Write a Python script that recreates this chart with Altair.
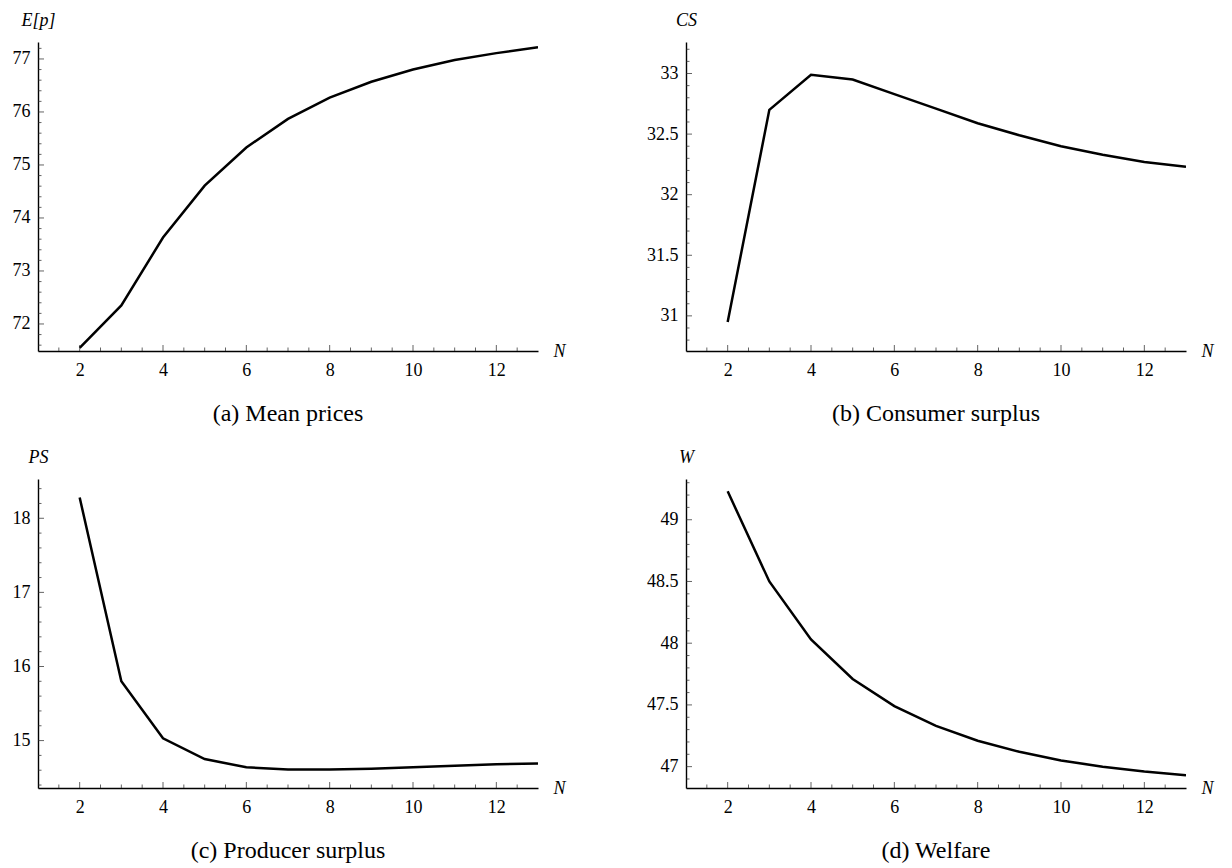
import altair as alt
import pandas as pd

# ---- data ----
N = [2, 3, 4, 5, 6, 7, 8, 9, 10, 11, 12, 13]
mean_prices = [71.55, 72.35, 73.63, 74.61, 75.33, 75.87, 76.27, 76.57, 76.80, 76.98, 77.11, 77.22]
consumer_surplus = [30.95, 32.70, 32.99, 32.95, 32.83, 32.71, 32.59, 32.49, 32.40, 32.33, 32.27, 32.23]
producer_surplus = [18.28, 15.80, 15.03, 14.75, 14.64, 14.61, 14.61, 14.62, 14.64, 14.66, 14.68, 14.69]
welfare = [49.23, 48.50, 48.03, 47.71, 47.49, 47.33, 47.21, 47.12, 47.05, 47.00, 46.96, 46.93]

x_major = [2, 4, 6, 8, 10, 12]
x_minor = [1.5, 2.5, 3, 3.5, 4.5, 5, 5.5, 6.5, 7, 7.5, 8.5, 9, 9.5, 10.5, 11, 11.5, 12.5]

ticks_a = [72, 73, 74, 75, 76, 77]
ticks_b = [31, 31.5, 32, 32.5, 33]
ticks_c = [15, 16, 17, 18]
ticks_d = [47, 47.5, 48, 48.5, 49]

SERIF = "Liberation Serif, Times New Roman, Times, serif"
W, H = 500, 309


def minor_ticks(lo, hi, step, majors):
    out = []
    k = int(lo / step) - 1
    while k * step <= hi + 1e-9:
        v = round(k * step, 4)
        if lo <= v <= hi and all(abs(v - m) > 1e-6 for m in majors):
            out.append(v)
        k += 1
    return out


def panel(values, ylab, caption, ydom, ymajor, ystep):
    df = pd.DataFrame({"N": N, "v": values})
    xs = alt.Scale(domain=[1, 13], nice=False, zero=False)
    ys = alt.Scale(domain=ydom, nice=False, zero=False)
    yminor = minor_ticks(ydom[0], ydom[1], ystep, ymajor)

    line = alt.Chart(df).mark_line(color="black", strokeWidth=2.5, clip=True).encode(
        x=alt.X("N:Q", scale=xs, axis=alt.Axis(
            values=x_major, ticks=False, grid=False, domainColor="black", domainWidth=1.4,
            labelFont=SERIF, labelFontSize=18, labelColor="black", labelPadding=10,
            title="N", titleFont=SERIF, titleFontStyle="italic", titleFontWeight="normal",
            titleFontSize=18, titleColor="black", titleX=W + 15, titleY=0,
            titleAlign="left", titleBaseline="middle", labelFlush=False)),
        y=alt.Y("v:Q", scale=ys, axis=alt.Axis(
            values=ymajor, format="~g", ticks=False, grid=False, domainColor="black",
            domainWidth=1.4, labelFont=SERIF, labelFontSize=18, labelColor="black",
            labelPadding=8, title=ylab, titleFont=SERIF, titleFontStyle="italic",
            titleFontWeight="normal", titleFontSize=18, titleColor="black", titleAngle=0,
            titleX=0, titleY=-22, titleAlign="center", titleBaseline="middle",
            labelFlush=False)),
    )

    def xticks(vals, size):
        return alt.Chart(pd.DataFrame({"t": vals})).mark_tick(
            orient="vertical", size=size, thickness=1, color="#222", yOffset=-size / 2
        ).encode(x=alt.X("t:Q", scale=xs), y=alt.datum(ydom[0], scale=ys))

    def yticks(vals, size):
        return alt.Chart(pd.DataFrame({"t": vals})).mark_tick(
            orient="horizontal", size=size, thickness=1, color="#222", xOffset=size / 2
        ).encode(y=alt.Y("t:Q", scale=ys), x=alt.datum(1, scale=xs))

    layers = [line, xticks(x_major, 6), xticks(x_minor, 3.5),
              yticks(ymajor, 6), yticks(yminor, 3.5)]

    return alt.layer(*layers).properties(
        width=W, height=H,
        title=alt.TitleParams(caption, orient="bottom", anchor="middle", frame="group",
                              font=SERIF, fontSize=24, fontWeight="normal", color="black",
                              offset=23),
    )


pa = panel(mean_prices, "E[p]", "(a)  Mean prices", [71.49, 77.32], ticks_a, 0.2)
pb = panel(consumer_surplus, "CS", "(b)  Consumer surplus", [30.71, 33.26], ticks_b, 0.1)
pc = panel(producer_surplus, "PS", "(c)  Producer surplus", [14.36, 18.53], ticks_c, 0.2)
pd_ = panel(welfare, "W", "(d)  Welfare", [46.827, 49.33], ticks_d, 0.1)

row1 = alt.hconcat(pa, pb, spacing=80)
row2 = alt.hconcat(pc, pd_, spacing=80)
chart = alt.vconcat(row1, row2, spacing=22).configure(
    background="white", padding={"left": 4, "top": 3, "right": 5, "bottom": 0}
).configure_view(stroke="transparent", strokeWidth=0)

chart.save("out.html", embed_options={"renderer": "svg", "actions": False})
